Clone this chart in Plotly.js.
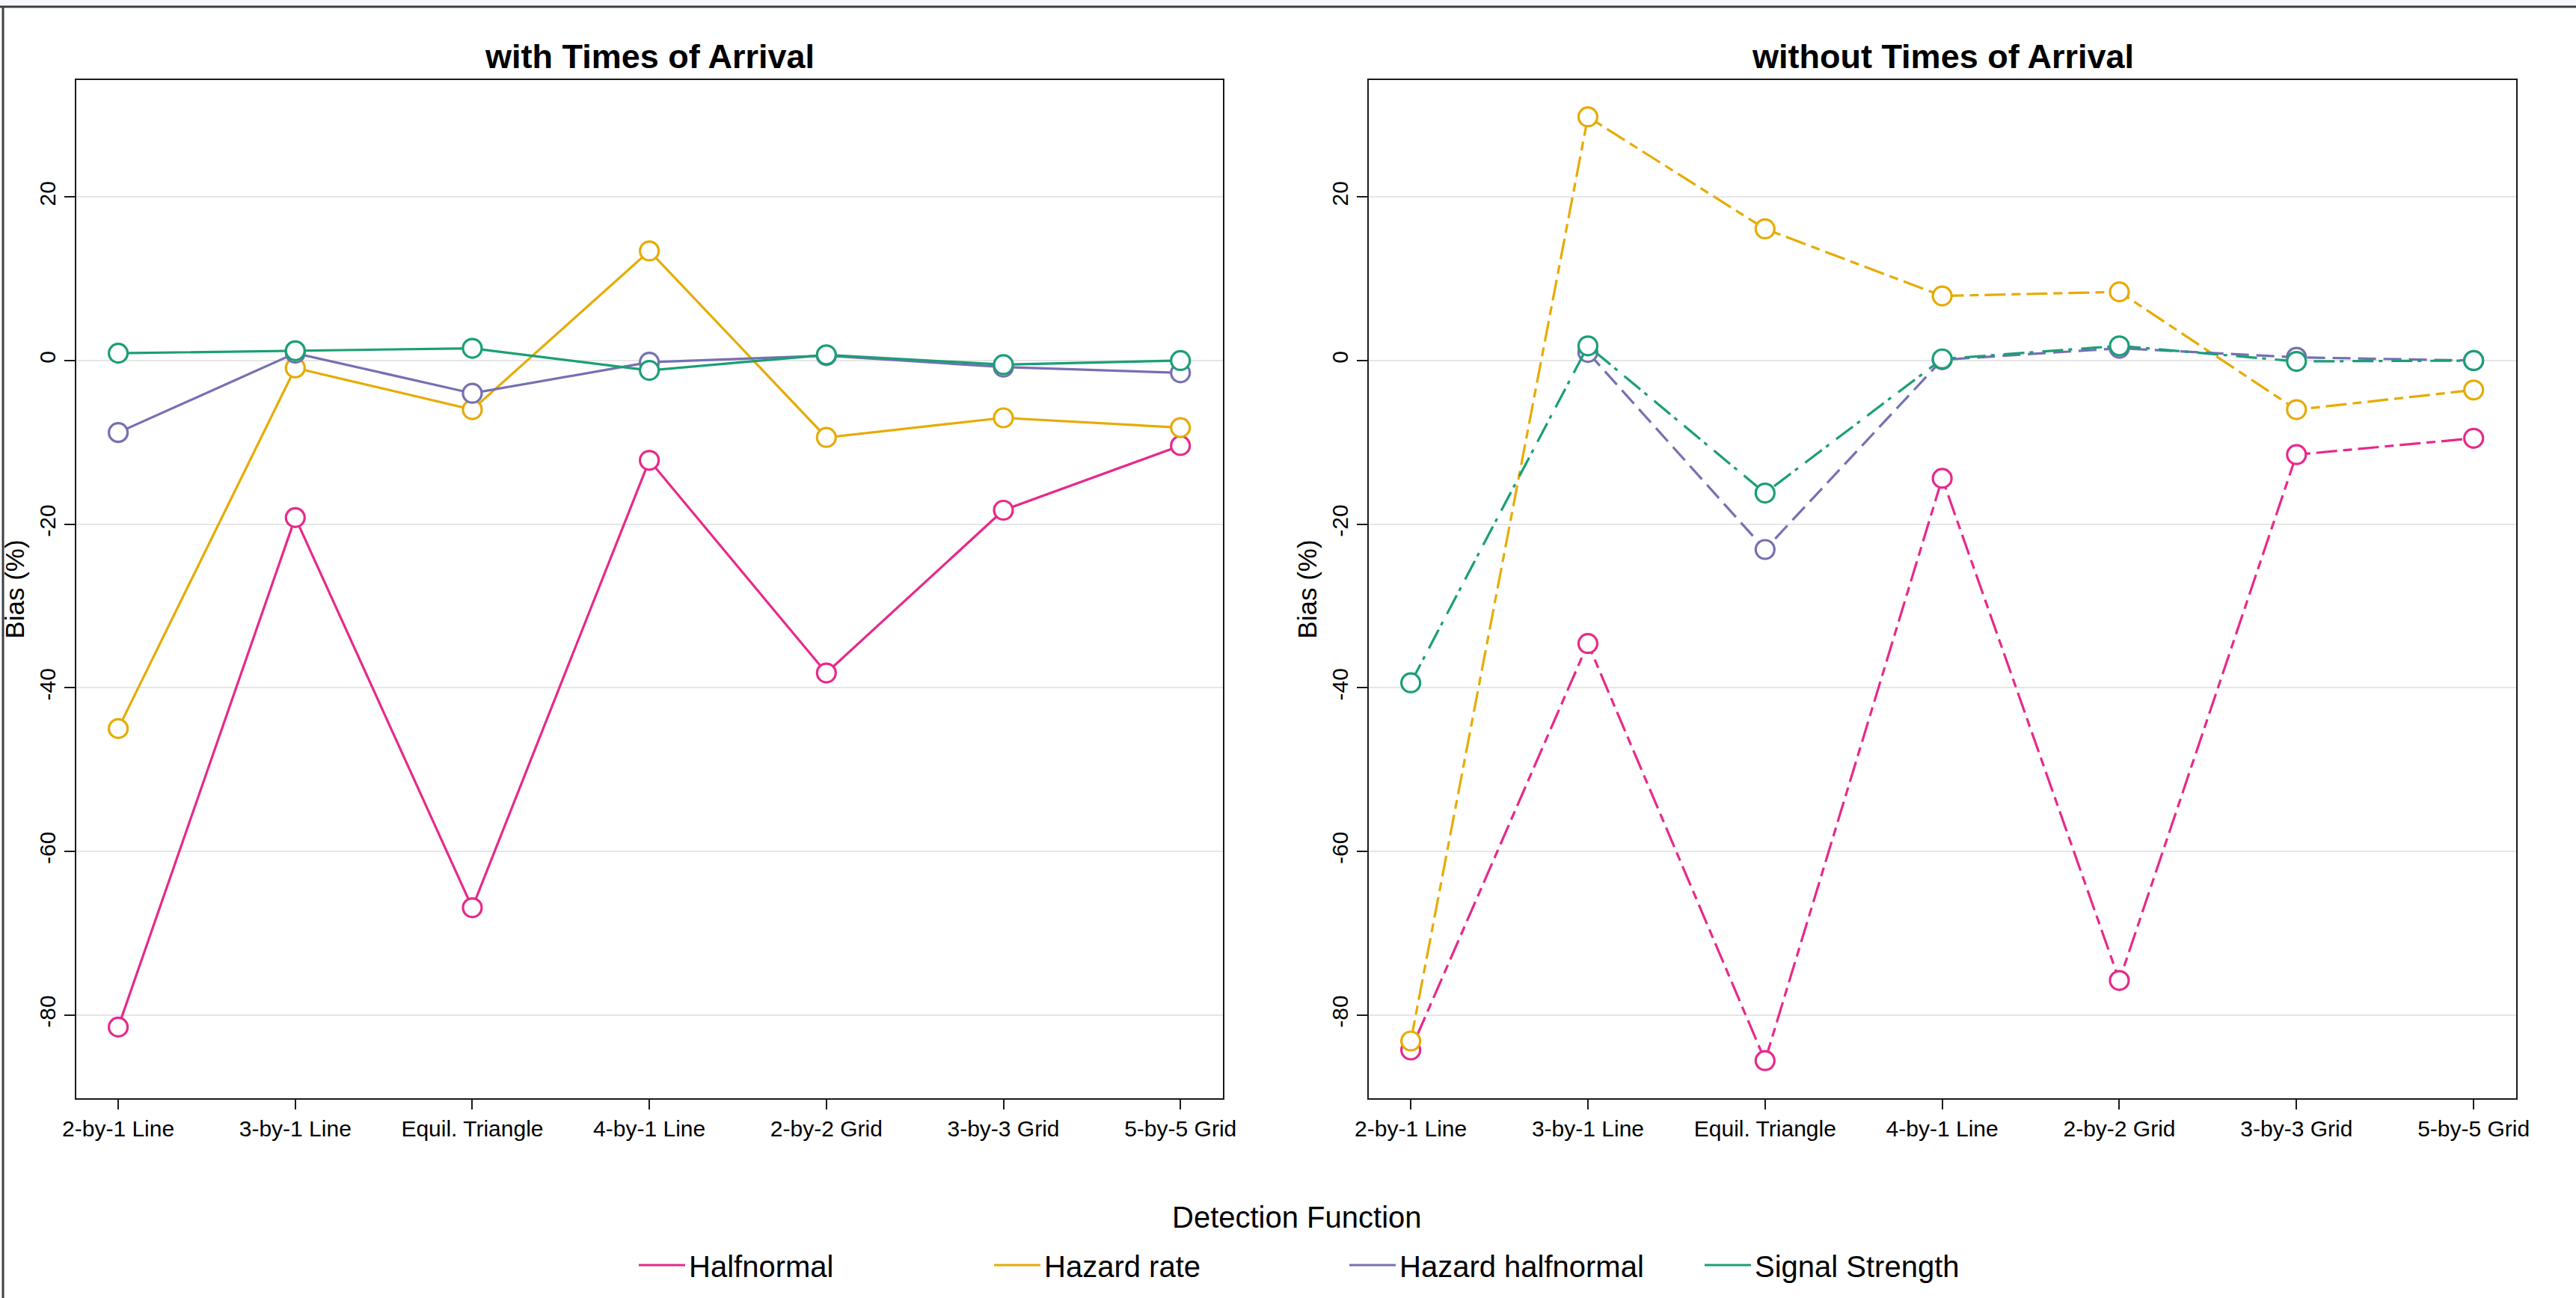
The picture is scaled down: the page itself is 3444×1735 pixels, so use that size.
<!DOCTYPE html>
<html>
<head>
<meta charset="utf-8">
<script src="https://cdn.plot.ly/plotly-3.0.1.min.js"></script>
<style>
html,body{margin:0;padding:0;background:#ffffff;}
#chart{width:3444px;height:1735px;}
</style>
</head>
<body>
<div id="chart"></div>
<script>
// ---------- data ----------
const categories = ['2-by-1 Line','3-by-1 Line','Equil. Triangle','4-by-1 Line','2-by-2 Grid','3-by-3 Grid','5-by-5 Grid'];
const seriesNames = ['Halfnormal','Hazard rate','Hazard halfnormal','Signal Strength'];

// with Times of Arrival (bias %)
const halfnormalWith       = [-81.5, -19.2, -66.9, -12.2, -38.2, -18.3, -10.4];
const hazardRateWith       = [-45.0,  -0.9,  -6.0,  13.4,  -9.4,  -7.0,  -8.2];
const hazardHalfnormalWith = [ -8.8,   0.9,  -4.0,  -0.2,   0.6,  -0.8,  -1.5];
const signalStrengthWith   = [  0.9,   1.2,   1.5,  -1.2,   0.7,  -0.5,   0.0];

// without Times of Arrival (bias %)
const halfnormalWithout       = [-84.3, -34.6, -85.6, -14.4, -75.8, -11.5,  -9.5];
const hazardRateWithout       = [-83.2,  29.8,  16.1,   7.9,   8.4,  -6.0,  -3.6];
const hazardHalfnormalWithout = [ null,   1.0, -23.1,   0.1,   1.5,   0.4,   0.0];
const signalStrengthWithout   = [-39.4,   1.8, -16.2,   0.2,   1.8,  -0.1,   0.0];

const yTickValues = [-80, -60, -40, -20, 0, 20];
const yTickLabels = ['-80', '-60', '-40', '-20', '0', '20'];

// ---------- styles ----------
const seriesColors = ['#E7298A', '#E6AB02', '#7570B3', '#1B9E77'];
const dashWithout  = ['12px,8px,28px,8px', '28px,8px,12px,8px', '24px,10px', '28px,7px,5px,12px'];

const W = 3444, H = 1735;
const fx = v => v / W;
const fy = v => 1 - v / H;
const FONT = '"Liberation Sans", Arial, Helvetica, sans-serif';

const withSets = [halfnormalWith, hazardRateWith, hazardHalfnormalWith, signalStrengthWith];
const withoutSets = [halfnormalWithout, hazardRateWithout, hazardHalfnormalWithout, signalStrengthWithout];

const traces = [];
function addSeries(vals, i, xa, ya, dash, legend) {
  traces.push({
    type: 'scatter', mode: 'lines',
    x: categories, y: vals, name: seriesNames[i], legendgroup: seriesNames[i],
    xaxis: xa, yaxis: ya, showlegend: legend, connectgaps: false,
    line: {color: seriesColors[i], width: 3.2, dash: dash},
    hoverinfo: 'skip'
  });
  traces.push({
    type: 'scatter', mode: 'markers',
    x: categories, y: vals, name: seriesNames[i], legendgroup: seriesNames[i],
    xaxis: xa, yaxis: ya, showlegend: false,
    marker: {symbol: 'circle', size: 25, color: '#ffffff', line: {color: seriesColors[i], width: 3.2}},
    cliponaxis: false
  });
}
withSets.forEach((vals, i) => addSeries(vals, i, 'x', 'y', 'solid', true));
withoutSets.forEach((vals, i) => addSeries(vals, i, 'x2', 'y2', dashWithout[i], false));

const yDomain = [fy(1468), fy(107)];
const xCommon = {
  type: 'category', range: [-0.237, 6.24], showgrid: false, zeroline: false,
  showline: true, mirror: true, linecolor: '#1a1a1a', linewidth: 2,
  ticks: 'outside', ticklen: 13, tickwidth: 2, tickcolor: '#1a1a1a',
  tickfont: {family: FONT, size: 30, color: '#000'}, fixedrange: true
};
const yCommon = {
  range: [-90.2, 34.3], tickvals: yTickValues, ticktext: yTickLabels,
  showgrid: true, gridcolor: '#e6e6e6', gridwidth: 2, zeroline: false,
  showline: true, mirror: true, linecolor: '#1a1a1a', linewidth: 2,
  ticks: 'outside', ticklen: 14, tickwidth: 2, tickcolor: '#1a1a1a',
  tickangle: -90, tickfont: {family: FONT, size: 30, color: '#000'},
  title: {text: 'Bias (%)', font: {family: FONT, size: 35, color: '#000'}, standoff: 4},
  fixedrange: true
};

const layout = {
  width: W, height: H,
  margin: {l: 0, r: 0, t: 0, b: 0},
  paper_bgcolor: '#ffffff', plot_bgcolor: '#ffffff',
  font: {family: FONT, size: 30, color: '#000'},
  showlegend: true,
  legend: {
    orientation: 'h', x: fx(849), xanchor: 'left', y: fy(1691), yanchor: 'middle',
    font: {family: FONT, size: 40, color: '#000'},
    itemwidth: 62, entrywidth: 398, entrywidthmode: 'pixels',
    bgcolor: 'rgba(0,0,0,0)', borderwidth: 0, traceorder: 'normal'
  },
  xaxis: Object.assign({}, xCommon, {domain: [fx(102), fx(1635)], anchor: 'y'}),
  yaxis: Object.assign({}, yCommon, {domain: yDomain, anchor: 'x'}),
  xaxis2: Object.assign({}, xCommon, {domain: [fx(1830), fx(3364)], anchor: 'y2'}),
  yaxis2: Object.assign({}, yCommon, {domain: yDomain, anchor: 'x2'}),
  annotations: [
    {text: '<b>with Times of Arrival</b>', xref: 'paper', yref: 'paper', x: fx(868.5), y: fy(76),
     xanchor: 'center', yanchor: 'middle', showarrow: false, font: {family: FONT, size: 45, color: '#000'}},
    {text: '<b>without Times of Arrival</b>', xref: 'paper', yref: 'paper', x: fx(2597), y: fy(76),
     xanchor: 'center', yanchor: 'middle', showarrow: false, font: {family: FONT, size: 45, color: '#000'}},
    {text: 'Detection Function', xref: 'paper', yref: 'paper', x: fx(1734), y: fy(1627),
     xanchor: 'center', yanchor: 'middle', showarrow: false, font: {family: FONT, size: 40, color: '#000'}}
  ],
  shapes: [
    {type: 'rect', xref: 'paper', yref: 'paper', x0: 0, x1: 1, y0: fy(8), y1: 1,
     fillcolor: '#f6f8fc', line: {width: 0}, layer: 'below'},
    {type: 'line', xref: 'paper', yref: 'paper', x0: 0, x1: 1, y0: fy(9), y1: fy(9),
     line: {color: '#3c4046', width: 3}},
    {type: 'line', xref: 'paper', yref: 'paper', x0: fx(4), x1: fx(4), y0: 0, y1: fy(9),
     line: {color: '#3c4046', width: 3}}
  ]
};

Plotly.newPlot('chart', traces, layout, {displayModeBar: false, staticPlot: true});
</script>
</body>
</html>
